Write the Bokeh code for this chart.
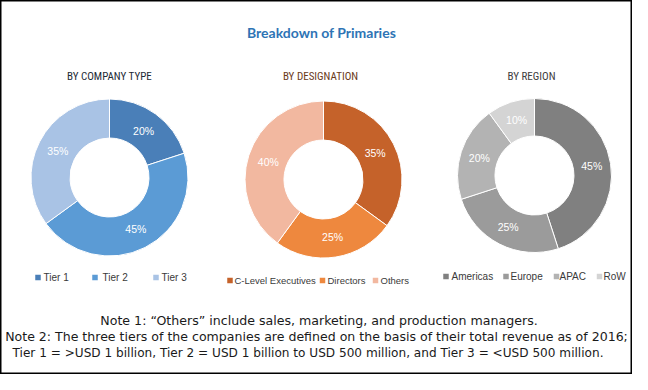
import numpy as np
from bokeh.plotting import figure
from bokeh.models import Range1d
from bokeh.core.properties import value
from bokeh.embed import file_html
from bokeh.resources import INLINE

# ---------------- data ----------------
chart_title = "Breakdown of Primaries"
subtitles = ["BY COMPANY TYPE", "BY DESIGNATION", "BY REGION"]

company_labels = ["Tier 1", "Tier 2", "Tier 3"]
company_values = [20, 45, 35]

designation_labels = ["C-Level Executives", "Directors", "Others"]
designation_values = [35, 25, 40]

region_labels = ["Americas", "Europe", "APAC", "RoW"]
region_values = [45, 25, 20, 10]

notes = [
    "Note 1: \u201cOthers\u201d include sales, marketing, and production managers.",
    "Note 2: The three tiers of the companies are defined on the basis of their total revenue as of 2016;",
    "Tier 1 = >USD 1 billion, Tier 2 = USD 1 billion to USD 500 million, and Tier 3 = <USD 500 million.",
]

# ---------------- styles ----------------
company_colors = ["#4a7fb8", "#5b9bd5", "#a9c3e5"]
designation_colors = ["#c5622a", "#ee883e", "#f2b8a0"]
region_colors = ["#808080", "#9b9b9b", "#b3b3b3", "#d4d4d4"]
subtitle_colors = ["#222a35", "#6b3a1a", "#404040"]
note_sizes = ["12.6px", "12.55px", "12.1px"]

W, H = 632, 374


def Y(y):
    return H - y


p = figure(width=W, height=H, output_backend="svg", toolbar_location=None,
           x_range=Range1d(0, W), y_range=Range1d(0, H),
           min_border=0)
p.axis.visible = False
p.grid.visible = False
p.outline_line_color = "black"
p.outline_line_width = 2
p.background_fill_color = "white"
p.border_fill_color = "white"

SANS = value("Liberation Sans")


def donut(cx, cy, vals, colors, r_in, r_out, r_lab):
    vals = np.array(vals, dtype=float)
    frac = vals / vals.sum()
    cum = np.cumsum(frac)
    prev = np.concatenate([[0.0], cum[:-1]])
    a0 = np.pi / 2 - 2 * np.pi * prev
    a1 = np.pi / 2 - 2 * np.pi * cum
    p.annular_wedge(x=[cx] * len(vals), y=[Y(cy)] * len(vals),
                    inner_radius=r_in, outer_radius=r_out,
                    start_angle=list(a1), end_angle=list(a0),
                    fill_color=colors, line_color="white", line_width=1)
    mid = (a0 + a1) / 2
    lx = cx + r_lab * np.cos(mid)
    ly = Y(cy) + r_lab * np.sin(mid)
    p.text(x=list(lx), y=list(ly), text=["%d%%" % v for v in vals],
           text_color="white", text_font=SANS, text_font_size="10.5px",
           text_align="center", text_baseline="middle")


def legend(ys, xs_marker, xs_text, labels, colors, fsize="10px"):
    p.scatter(x=xs_marker, y=[Y(ys)] * len(labels), marker="square", size=5.5,
              fill_color=colors, line_color=None)
    p.text(x=xs_text, y=[Y(ys)] * len(labels), text=labels,
           text_color="#3a3a3a", text_font=SANS, text_font_size=fsize,
           text_align="left", text_baseline="middle")


# title
p.text(x=[321], y=[Y(32)], text=[chart_title], text_color="#2e74b5",
       text_font=value("Lato"), text_font_style="bold", text_font_size="14px",
       text_align="center", text_baseline="middle")

# subtitles
p.text(x=[109, 320, 531], y=[Y(76)] * 3, text=subtitles, text_color=subtitle_colors,
       text_font=value("Liberation Sans Narrow, Roboto Condensed, Liberation Sans"),
       text_font_size="11px", text_align="center", text_baseline="middle")

# donuts
donut(109, 177, company_values, company_colors, 39.5, 78.5, 58)
donut(323, 179, designation_values, designation_colors, 39.5, 78.5, 58)
donut(534, 175, region_values, region_colors, 39.5, 77, 58)

# legends
legend(277, [37.5, 94.5, 155.5], [43, 102, 161], company_labels, company_colors)
legend(280, [229.5, 322, 375], [234, 327, 380], designation_labels, designation_colors,
       fsize="9.5px")
legend(276, [445.5, 505.5, 556, 599], [451, 510, 559, 603], region_labels, region_colors)

# notes
p.text(x=[318.5, 316, 307.5], y=[Y(320), Y(336), Y(352)], text=notes, text_color="#1a1a1a",
       text_font=value("DejaVu Sans"), text_font_size=note_sizes, text_align="center",
       text_baseline="middle")

open("out.html", "w").write(file_html(p, INLINE))
